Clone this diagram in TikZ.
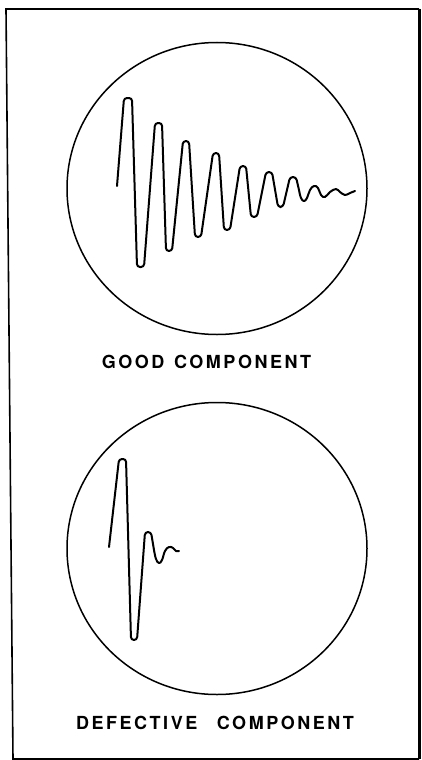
\documentclass[tikz,border=0pt]{standalone}
\usepackage{fontspec}
\setmainfont{TeX Gyre Heros}
\newfontfamily\lblfont[LetterSpace=14]{TeX Gyre Heros}
\begin{document}
\begin{tikzpicture}[x=1pt,y=-1pt,
  wave/.style={line width=2pt, line cap=round, line join=round},
  screen/.style={line width=1.5pt},
  frameline/.style={line width=1.6pt},
  lbl/.style={font=\lblfont\bfseries\fontsize{18}{18}\selectfont, inner sep=0pt, anchor=center}]
\useasboundingbox (0,0) rectangle (422,760);
% frame
\coordinate (f1) at (6,9);
\coordinate (f2) at (419,9);
\coordinate (f3) at (419,759);
\coordinate (f4) at (13,759);
\draw[frameline] (f2) -- (f1) -- (f4) -- (f3);
\draw[line width=3pt] (f2) -- (f3);
% screens
\draw[screen] (217,188.5) ellipse [x radius=150, y radius=146];
\draw[screen] (217,548.5) ellipse [x radius=150, y radius=146];
% good waveform
\draw[wave, rounded corners=3pt] (117,186) -- (124,98) -- (132,98) -- (137,267) -- (144,267)
  -- (155,123) -- (162,123) -- (166,251) -- (172,251) -- (183,141) -- (189,141)
  -- (195,237) -- (201,237) -- (213,153) -- (219,153) -- (224,230) -- (230,230)
  -- (240,166) -- (246,166) -- (251,217) -- (257,217) -- (266,172) -- (272,172)
  -- (278,207) -- (283,207) -- (290,177) -- (296,177) -- (299,190);
\draw[wave] plot[smooth, tension=0.7] coordinates {(299,190) (301,198) (304,201) (307,198)
  (310,190) (314,186) (318,188) (321,195) (325,197) (330,192) (336,189) (340,192)
  (345,195) (350,193) (355,191)};
% defective waveform
\draw[wave, rounded corners=3pt] (109,547) -- (119,459) -- (126,459) -- (131,640) -- (137,640)
  -- (145,532) -- (151,532) -- (154,550);
\draw[wave] plot[smooth, tension=0.7] coordinates {(154,550) (156,559) (159,563) (162,560)
  (165,551) (169,547) (173,548) (176,551) (179,551)};
% labels
\node[lbl] (good) at (206.5,362) {GOOD\hspace{2pt} COMPONENT};
\node[lbl] (bad) at (215,723) {DEFECTIVE\hspace{12pt} COMPONENT};
\end{tikzpicture}
\end{document}
